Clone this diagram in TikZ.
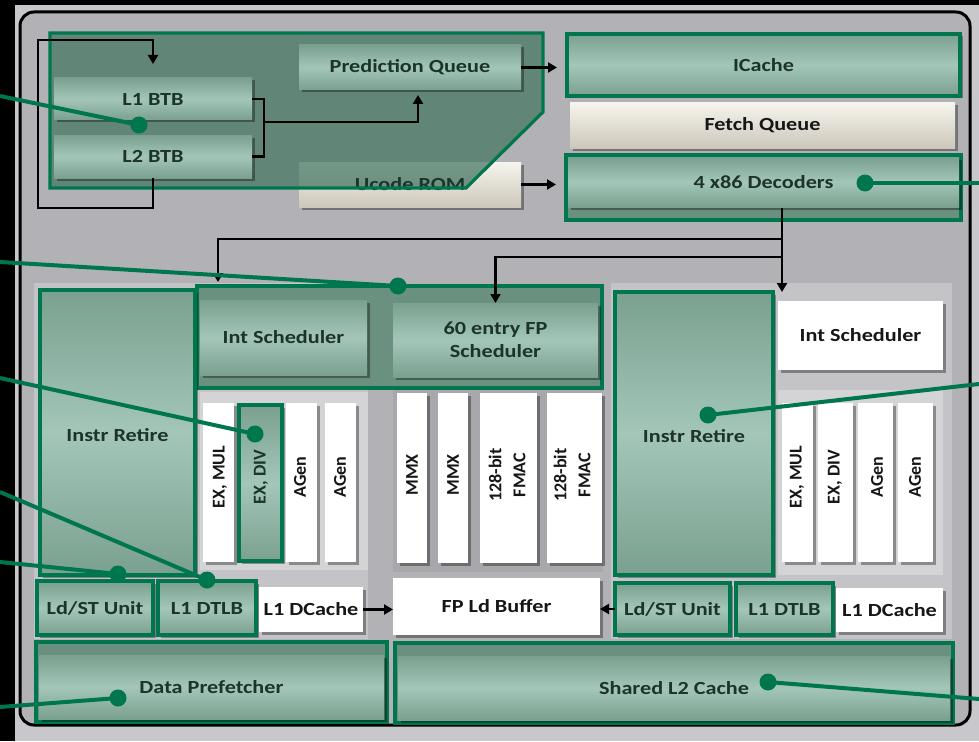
\documentclass[tikz,border=0pt]{standalone}
\usepackage{fontspec}
\setmainfont{Carlito}[FakeStretch=1.2]
\newfontfamily\rotfont{Carlito}
\usetikzlibrary{fit,arrows.meta,calc,shadows}
\definecolor{gline}{RGB}{0,118,78}
\definecolor{gA}{RGB}{122,160,143}
\definecolor{gB}{RGB}{163,198,184}
\definecolor{gdark}{RGB}{106,144,127}
\definecolor{gover}{RGB}{66,116,96}
\definecolor{gtext}{RGB}{28,52,42}
\definecolor{btext}{RGB}{22,22,22}
\definecolor{panel}{RGB}{178,178,182}
\definecolor{core}{RGB}{196,196,200}
\definecolor{outerg}{RGB}{200,200,204}
\definecolor{bA}{RGB}{246,244,238}
\definecolor{bB}{RGB}{204,199,186}
\definecolor{contc}{RGB}{212,212,215}
\definecolor{contf}{RGB}{168,168,172}
\begin{document}
\begin{tikzpicture}[x=1pt,y=-1pt,
  base/.style={inner sep=0pt,outer sep=0pt},
  shd/.style={drop shadow={shadow xshift=2.5pt,shadow yshift=-2.5pt,opacity=0.35,fill=black}},
  gbox/.style={base,shd,top color=gA,bottom color=gA,middle color=gB},
  gboxo/.style={gbox,draw=gline,line width=3.2pt},
  bbox/.style={base,shd,top color=bA,bottom color=bB},
  wbox/.style={base,shd,fill=white},
  grp/.style={base,fill=gdark,draw=gline,line width=3.2pt},
  cont/.style={base,fill=contc},
  col/.style={base,shd,fill=white},
  lbl/.style={inner sep=0pt,align=center,text=gtext,font=\fontsize{18.5}{23}\selectfont\bfseries},
  wlbl/.style={lbl,text=btext},
  rot/.style={rotate=90,inner sep=0pt,align=center,text=btext,font=\rotfont\fontsize{18}{24}\selectfont\bfseries},
  flow/.style={draw=black,line width=2.6pt},
  arr/.style={-{Triangle[length=9pt,width=10pt]}},
  dot/.style={circle,fill=gline,minimum size=17pt,inner sep=0pt},
  callout/.style={draw=gline,line width=4pt}
]
\useasboundingbox (0,0) rectangle (979,741);
\fill[black] (0,0) rectangle (979,741);
\fill[outerg] (15,5) rectangle (979,741);
\draw[fill=panel,draw=black,line width=3pt,rounded corners=14pt] (20,12) rectangle (970,725);
\fill[core] (34,283) rectangle (368,639);
\fill[core] (611,283) rectangle (952,639);

% ---------- front end ----------
\node[bbox,fit={(299,162)(521,207)}] (uc) {};
\fill[gover,fill opacity=0.72] (50,33) -- (543,33) -- (543,112) -- (466,188) -- (50,188) -- cycle;
\node[lbl] (tuc) at (uc) {Ucode ROM};
\node[gbox,fit={(54,78)(252,120)}] (l1) {};
\node[lbl] (tl1) at (l1) {L1 BTB};
\node[gbox,fit={(54,135)(252,178)}] (l2) {};
\node[lbl] (tl2) at (l2) {L2 BTB};
\node[gbox,fit={(299,45)(521,90)}] (pq) {};
\node[lbl] (tpq) at (pq) {Prediction Queue};
\draw[gline,line width=3.2pt] (50,33) -- (543,33) -- (543,112) -- (466,188) -- (50,188) -- cycle;

\node[gboxo,fit={(567,34)(960,96)}] (ic) {};
\node[lbl] (tic) at (ic) {ICache};
\node[bbox,fit={(570,103)(955,148)}] (fq) {};
\node[wlbl] (tfq) at (fq) {Fetch Queue};
\node[grp,fit={(566,155)(961,220)}] (deco) {};
\node[gbox,fit={(568,157)(959,207)}] (dec) {};
\node[lbl] (tdec) at (dec) {4 x86 Decoders};

\draw[flow,arr,shorten >=14pt] (l2.south) -- ++(0,30) -| (38,40) -| (l1.north);
\draw[flow] (l1.east) -| ($(l2.east)+(12,0)$) -- (l2.east);
\coordinate (bm) at (264,122);
\draw[flow,arr,shorten >=5pt] (bm) -| ($(pq.south west)+(119,0)$);
\draw[flow,arr,shorten >=10pt] (pq.east) -- (pq.east -| ic.west);
\draw[flow,arr,shorten >=10pt] (uc.east) -- (uc.east -| deco.west);

% ---------- schedulers ----------
\node[grp,fit={(197,286)(602,388)}] (sg) {};
\node[gbox,fit={(200,300)(367,375)}] (isl) {};
\node[lbl] (tisl) at (isl) {Int Scheduler};
\node[gbox,fit={(393,303)(598,377)}] (fps) {};
\node[lbl] (tfps) at (fps) {60 entry FP\\Scheduler};
\node[gboxo,fit={(40,290)(195,575)}] (irl) {};
\node[lbl] (tirl) at ($(irl)+(0,3)$) {Instr Retire};

% left integer execution
\node[cont,fit={(200,392)(368,570)}] (xl) {};
\node[col,fit={(203,403)(234,562)}] (xl1) {};
\node[gboxo,fit={(239,405)(282,561)}] (xl2) {};
\node[col,fit={(286,403)(317,562)}] (xl3) {};
\node[col,fit={(325,403)(356,562)}] (xl4) {};
\node[rot] (txl1) at (220,477) {EX, MUL};
\node[rot,text=gtext] (txl2) at (261,477) {EX, DIV};
\node[rot] (txl3) at (300,477) {AGen};
\node[rot] (txl4) at (340,477) {AGen};

% FP execution
\node[cont,fill=contf,fit={(393,390)(603,572)}] (xf) {};
\node[col,fit={(397,393)(427,563)}] (xf1) {};
\node[col,fit={(438,393)(468,563)}] (xf2) {};
\node[col,fit={(480,393)(537,563)}] (xf3) {};
\node[col,fit={(547,393)(602,563)}] (xf4) {};
\node[rot] (txf1) at (412,475) {MMX};
\node[rot] (txf2) at (453,475) {MMX};
\node[rot] (txf3) at (507,475) {128-bit\\FMAC};
\node[rot] (txf4) at (572,475) {128-bit\\FMAC};

% right core
\node[gboxo,fit={(615,292)(773,575)}] (irr) {};
\node[lbl] (tirr) at ($(irr)+(0,3)$) {Instr Retire};
\node[wbox,fit={(778,301)(943,370)}] (isr) {};
\node[wlbl] (tisr) at (isr) {Int Scheduler};
\node[cont,fit={(778,390)(943,575)}] (xr) {};
\node[col,fit={(782,403)(813,562)}] (xr1) {};
\node[col,fit={(818,403)(853,562)}] (xr2) {};
\node[col,fit={(858,403)(893,562)}] (xr3) {};
\node[col,fit={(898,403)(933,562)}] (xr4) {};
\node[rot] (txr1) at (797,477) {EX, MUL};
\node[rot] (txr2) at (835,477) {EX, DIV};
\node[rot] (txr3) at (877,477) {AGen};
\node[rot] (txr4) at (915,477) {AGen};

% decoder fan-out
\coordinate (dsrc) at (782,208);
\coordinate (j1) at (782,239);
\coordinate (j2) at (782,257);
\draw[flow,arr,shorten >=9pt] (dsrc) -- (dsrc |- isr.north);
\draw[flow,arr,shorten >=18pt] (j1) -| ($(isl.north west)+(18,0)$);
\draw[flow,arr] (j2) -| (fps.north);

% ---------- load/store and caches ----------
\node[gboxo,fit={(37,581)(153,635)}] (lsl) {};
\node[lbl] (tlsl) at (lsl) {Ld/ST Unit};
\node[gboxo,fit={(158,581)(256,635)}] (dtl) {};
\node[lbl] (tdtl) at (dtl) {L1 DTLB};
\node[wbox,fit={(259,587)(363,632)}] (dcl) {};
\node[wlbl] (tdcl) at (dcl) {L1 DCache};
\node[wbox,fit={(393,578)(600,635)}] (fpl) {};
\node[wlbl] (tfpl) at (fpl) {FP Ld Buffer};
\node[gboxo,fit={(615,583)(730,635)}] (lsr) {};
\node[lbl] (tlsr) at (lsr) {Ld/ST Unit};
\node[gboxo,fit={(736,583)(833,635)}] (dtr) {};
\node[lbl] (tdtr) at (dtr) {L1 DTLB};
\node[wbox,fit={(836,588)(943,632)}] (dcr) {};
\node[wlbl] (tdcr) at (dcr) {L1 DCache};
\draw[flow,arr] (dcl.east) -- (dcl.east -| fpl.west);
\draw[flow,arr] (lsr.west) -- (lsr.west -| fpl.east);

\node[grp,fit={(36,642)(387,722)}] (dpo) {};
\node[gbox,fit={(39,655)(384,719)}] (dp) {};
\node[lbl] (tdp) at (dp) {Data Prefetcher};
\node[grp,fit={(395,643)(953,723)}] (l2o) {};
\node[gbox,fit={(398,656)(950,720)}] (l2c) {};
\node[lbl] (tl2c) at (l2c) {Shared L2 Cache};

% ---------- callouts ----------
\node[dot] (d1) at (139,125) {};
\node[dot] (d2) at (398,286) {};
\node[dot] (d3) at (255,434) {};
\node[dot] (d4) at (207,580) {};
\node[dot] (d5) at (118,574) {};
\node[dot] (d6) at (118,698) {};
\node[dot] (d7) at (865,183) {};
\node[dot] (d8) at (708,415) {};
\node[dot] (d9) at (768,682) {};
\coordinate (e1) at (0,96);
\coordinate (e2) at (0,262);
\coordinate (e3) at (0,378);
\coordinate (e4) at (0,492);
\coordinate (e5) at (0,562);
\coordinate (e6) at (0,707);
\coordinate (e7) at (979,183);
\coordinate (e8) at (979,384);
\coordinate (e9) at (979,699);
\foreach \i in {1,...,9} {\draw[callout] (e\i) -- (d\i.center);}
\end{tikzpicture}
\end{document}
